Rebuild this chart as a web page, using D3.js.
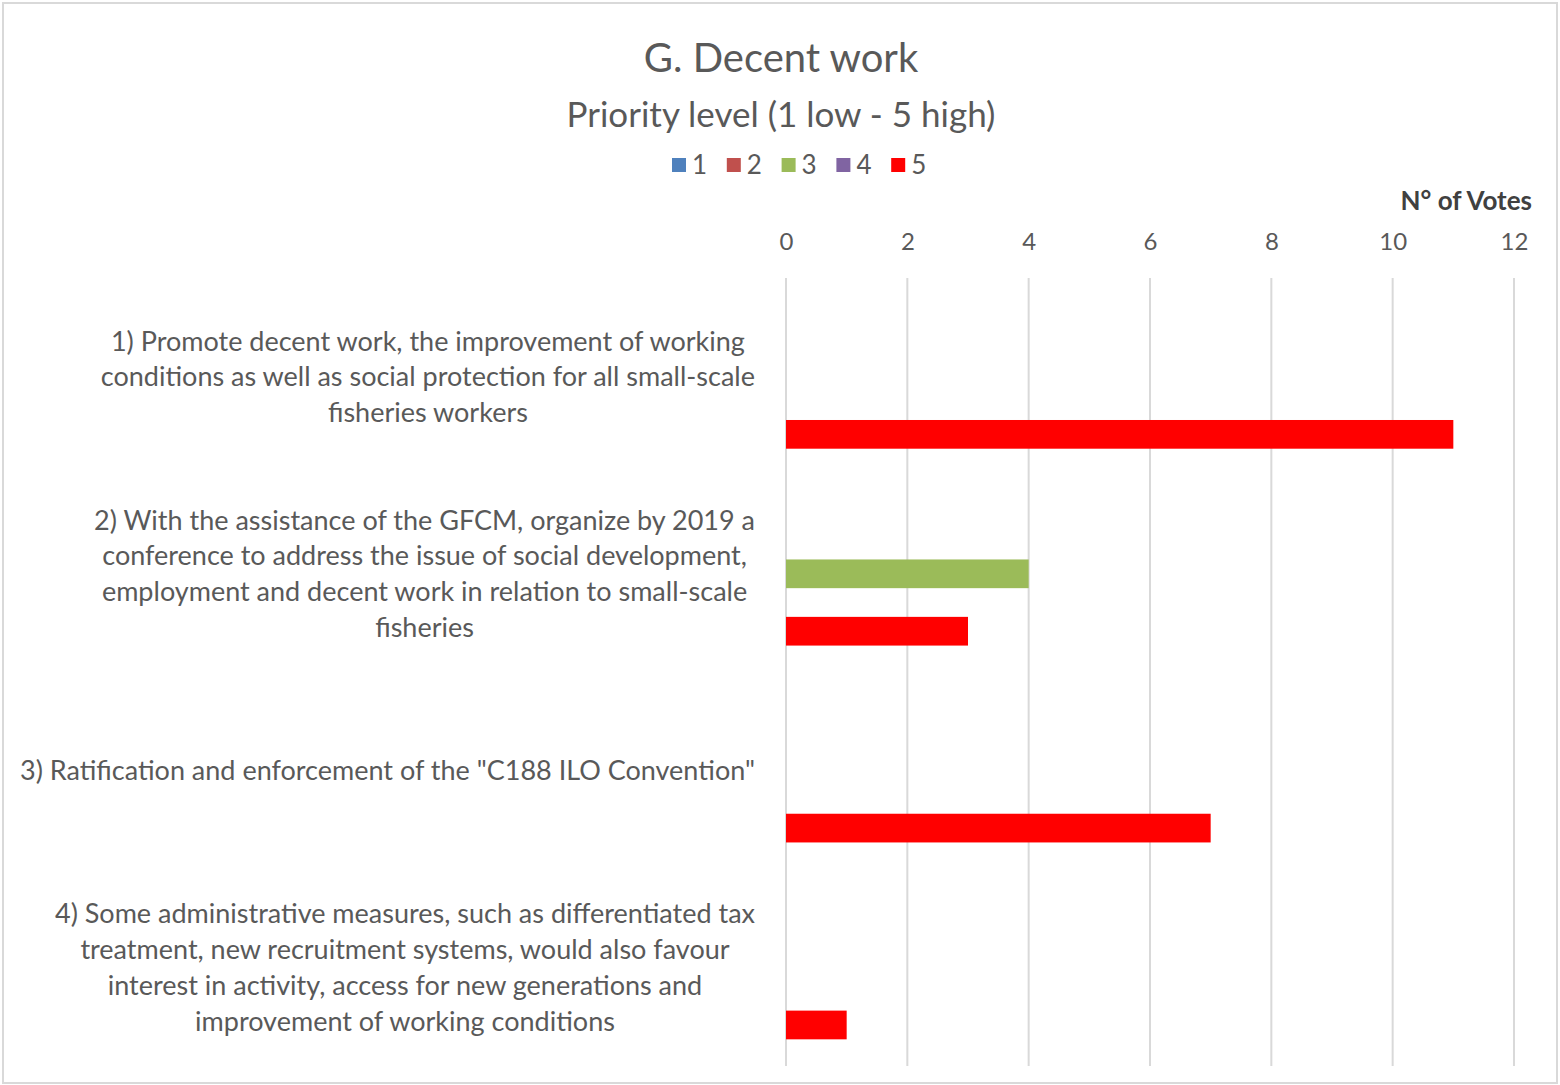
<!DOCTYPE html>
<html>
<head>
<meta charset="utf-8">
<script src="https://cdn.jsdelivr.net/npm/d3@7"></script>
<style>
  body { margin: 0; background: #fff; }
  svg text { font-family: Lato, "Open Sans", sans-serif; }
</style>
</head>
<body>
<svg width="1560" height="1085"></svg>
<script>
// chart data
var categories = ["c1", "c2", "c3", "c4"];
var categoryLines = [
  ["1) Promote decent work, the improvement of working", "conditions as well as social protection for all small-scale", "fisheries workers"],
  ["2) With the assistance of the GFCM, organize by 2019 a", "conference to address the issue of social development,", "employment and decent work in relation to small-scale", "fisheries"],
  ["3) Ratification and enforcement of the \"C188 ILO Convention\""],
  ["4) Some administrative measures, such as differentiated tax", "treatment, new recruitment systems, would also favour", "interest in activity, access for new generations and", "improvement of working conditions"]
];
var seriesNames = ["1", "2", "3", "4", "5"];
var seriesColors = ["#4f81bd", "#c0504d", "#9bbb59", "#8064a2", "#ff0000"];
var votes1 = [0, 0, 0, 0];
var votes2 = [0, 0, 0, 0];
var votes3 = [0, 4, 0, 0];
var votes4 = [0, 0, 0, 0];
var votes5 = [11, 3, 7, 1];
var xTicks = [0, 2, 4, 6, 8, 10, 12];

var allVotes = [votes1, votes2, votes3, votes4, votes5];

var svg = d3.select("svg"),
    width = +svg.attr("width"),
    height = +svg.attr("height");

// light chart border
svg.append("rect")
    .attr("x", 3).attr("y", 3)
    .attr("width", width - 6).attr("height", height - 5)
    .attr("fill", "none")
    .attr("stroke", "#d9d9d9")
    .attr("stroke-width", 2);

var x = d3.scaleLinear().domain([0, 12]).range([786, 1514]);

var y = d3.scaleBand()
    .domain(categories)
    .range([278.5, 1066])
    .paddingInner(0.271)
    .paddingOuter(0.1355);

var ySeries = d3.scaleBand()
    .domain(seriesNames)
    .range([0, y.bandwidth()])
    .padding(0);

// titles
svg.append("text")
    .attr("x", 781).attr("y", 72)
    .attr("text-anchor", "middle")
    .attr("fill", "#595959")
    .attr("font-size", 40)
    .text("G. Decent work");

svg.append("text")
    .attr("x", 781).attr("y", 127)
    .attr("text-anchor", "middle")
    .attr("fill", "#595959")
    .attr("font-size", 35)
    .text("Priority level (1 low - 5 high)");

// legend
var legend = svg.append("g")
    .selectAll("g")
    .data(seriesNames)
    .join("g")
      .attr("transform", (d, i) => `translate(${672 + i * 54.8},158)`);

legend.append("rect")
    .attr("width", 14).attr("height", 14)
    .attr("fill", (d, i) => seriesColors[i]);

legend.append("text")
    .attr("x", 20).attr("y", 7)
    .attr("dy", "0.35em")
    .attr("fill", "#595959")
    .attr("font-size", 26)
    .text(d => d);

// gridlines
svg.append("g")
    .selectAll("line")
    .data(xTicks)
    .join("line")
      .attr("x1", d => x(d)).attr("x2", d => x(d))
      .attr("y1", 278).attr("y2", 1066)
      .attr("stroke", "#d9d9d9")
      .attr("stroke-width", 2);

// top axis labels
var xAxis = svg.append("g")
    .attr("transform", "translate(0,250)")
    .call(d3.axisTop(x).tickValues(xTicks).tickSize(0).tickPadding(0));
xAxis.select(".domain").remove();
xAxis.selectAll("text")
    .attr("fill", "#595959")
    .attr("font-size", 24)
    .attr("font-family", "Lato, sans-serif");

svg.append("text")
    .attr("x", 1532).attr("y", 210)
    .attr("text-anchor", "end")
    .attr("fill", "#404040")
    .attr("font-size", 26)
    .attr("font-weight", "bold")
    .text("N° of Votes");

// bars
var barData = [];
categories.forEach(function(c, ci) {
    seriesNames.forEach(function(s, si) {
        barData.push({cat: c, series: s, si: si, value: allVotes[si][ci]});
    });
});

svg.append("g")
    .selectAll("rect")
    .data(barData.filter(d => d.value > 0))
    .join("rect")
      .attr("x", x(0))
      .attr("y", d => y(d.cat) + ySeries(d.series))
      .attr("width", d => x(d.value) - x(0))
      .attr("height", ySeries.bandwidth())
      .attr("fill", d => seriesColors[d.si]);

// category labels: each block centred on its widest line, right edge near 755
var labelRight = 755, lineH = 35.7;
categories.forEach(function(c, ci) {
    var lines = categoryLines[ci];
    var g = svg.append("g");
    var cy = y(c) + y.bandwidth() / 2;
    var texts = g.selectAll("text")
        .data(lines)
        .join("text")
          .attr("y", (d, i) => cy + (i - (lines.length - 1) / 2) * lineH)
          .attr("dy", "0.35em")
          .attr("text-anchor", "middle")
          .attr("fill", "#595959")
          .attr("font-size", 27)
          .text(d => d);
    var maxW = d3.max(texts.nodes(), n => n.getComputedTextLength());
    texts.attr("x", labelRight - maxW / 2);
});
</script>
</body>
</html>
